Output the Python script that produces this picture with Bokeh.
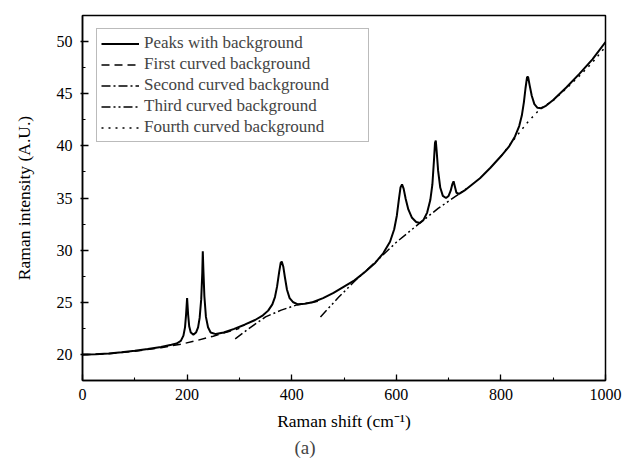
from bokeh.plotting import figure
from bokeh.models import Legend, LegendItem, Title, Range1d, SingleIntervalTicker
from bokeh.embed import file_html
from bokeh.resources import INLINE

# ---- data ----
peak_x = [0, 25, 50, 75, 100, 125, 150, 170, 180, 188, 193, 196, 198, 200, 202, 204, 207, 212,
          217, 221, 224, 227, 229, 230, 231, 233, 236, 240, 245, 255, 270, 290, 310, 330, 345,
          355, 363, 368, 372, 376, 379, 381, 384, 387, 391, 396, 403, 412, 425, 440, 460, 480,
          500, 520, 540, 560, 575, 588, 596, 601, 605, 608, 611, 614, 618, 623, 630, 638, 645,
          652, 659, 665, 669, 672, 674, 675.5, 677, 680, 684, 689, 695, 700, 704, 707, 709.5,
          712, 715, 720, 730, 745, 760, 780, 800, 815, 827, 835, 840, 844, 847, 850, 852, 855,
          859, 864, 870, 877, 885, 900, 925, 950, 975, 1000]
peak_y = [20.0, 20.02, 20.08, 20.2, 20.35, 20.52, 20.72, 20.92, 21.05, 21.3, 21.8, 22.6, 23.8,
          25.4, 23.8, 22.7, 22.1, 21.9, 22.1, 22.6, 23.5, 25.3, 27.8, 29.9, 28.3, 25.6, 23.6,
          22.6, 22.1, 21.95, 22.1, 22.45, 22.85, 23.3, 23.75, 24.2, 24.8, 25.5, 26.5, 27.9,
          28.8, 28.9, 28.4, 27.4, 26.2, 25.4, 25.0, 24.8, 24.85, 25.0, 25.4, 25.9, 26.5, 27.1,
          27.9, 28.8, 29.7, 30.8, 32.0, 33.3, 34.9, 36.0, 36.3, 35.9, 34.9, 33.9, 33.1, 32.7,
          32.6, 32.9, 33.6, 34.8, 36.3, 38.6, 40.3, 40.5, 39.6, 37.6, 36.0, 35.2, 35.0, 35.2,
          35.7, 36.3, 36.6, 36.1, 35.5, 35.4, 35.7, 36.3, 36.9, 37.9, 39.0, 39.9, 40.9, 41.9,
          42.9, 44.2, 45.5, 46.6, 46.6, 45.8, 44.8, 44.0, 43.65, 43.6, 43.8, 44.4, 45.6, 46.9,
          48.3, 49.95]

bg1_x = [0, 50, 100, 150, 190, 220, 250, 280, 300]
bg1_y = [19.98, 20.06, 20.3, 20.65, 21.0, 21.35, 21.75, 22.2, 22.5]

bg2_x = [292, 320, 350, 380, 410, 440, 450]
bg2_y = [21.5, 22.55, 23.6, 24.25, 24.75, 25.0, 25.1]

bg3_x = [455, 490, 525, 560, 600, 640, 680, 720, 740]
bg3_y = [23.6, 25.5, 27.25, 28.85, 30.75, 32.4, 34.0, 35.4, 36.1]

bg4_x = [800, 820, 850, 876, 900, 925, 950, 975, 1000]
bg4_y = [39.0, 40.3, 42.2, 43.6, 44.35, 45.5, 46.7, 48.0, 49.5]

labels = ["Peaks with background", "First curved background", "Second curved background",
          "Third curved background", "Fourth curved background"]

FONT = "Liberation Serif"

p = figure(width=622, height=459, output_backend="svg", toolbar_location=None,
           x_range=Range1d(0, 1000), y_range=Range1d(17.5, 52.5),
           min_border_left=82, min_border_right=17, min_border_top=15, min_border_bottom=76)
p.grid.visible = False
p.background_fill_color = "white"
p.border_fill_color = "white"
p.outline_line_color = "black"
p.outline_line_width = 1.5

r0 = p.line(peak_x, peak_y, line_color="black", line_width=2)
r1 = p.line(bg1_x, bg1_y, line_color="black", line_width=1.5, line_dash="8 5")
r2 = p.line(bg2_x, bg2_y, line_color="black", line_width=1.5, line_dash="9 3 2 3")
r3 = p.line(bg3_x, bg3_y, line_color="black", line_width=1.5, line_dash="9 3 2 3 2 3")
r4 = p.line(bg4_x, bg4_y, line_color="black", line_width=1.5, line_dash="2 5")

for ax in (p.xaxis[0], p.yaxis[0]):
    ax.axis_line_width = 1.5
    ax.axis_line_color = "black"
    ax.major_tick_line_color = "black"
    ax.minor_tick_line_color = "black"
    ax.major_tick_line_width = 1.3
    ax.minor_tick_line_width = 1.1
    ax.major_tick_in = 6
    ax.major_tick_out = 0
    ax.minor_tick_in = 3
    ax.minor_tick_out = 0
    ax.major_label_text_font = FONT
    ax.major_label_text_font_size = "16px"
    ax.major_label_text_color = "black"
    ax.axis_label_text_font = FONT
    ax.axis_label_text_font_size = "17.5px"
    ax.axis_label_text_font_style = "normal"
    ax.axis_label_text_color = "black"

p.xaxis.ticker = SingleIntervalTicker(interval=200, num_minor_ticks=2)
p.yaxis.ticker = SingleIntervalTicker(interval=5, num_minor_ticks=2)
p.yaxis.major_tick_out = 2
p.xaxis.axis_label = "Raman shift (cm\u207b\u00b9)"
p.yaxis.axis_label = "Raman intensity (A.U.)"
p.xaxis.major_label_standoff = 8
p.xaxis.axis_label_standoff = 8
p.yaxis.major_label_standoff = 8
p.yaxis.axis_label_standoff = 20

legend = Legend(items=[LegendItem(label=labels[0], renderers=[r0]),
                       LegendItem(label=labels[1], renderers=[r1]),
                       LegendItem(label=labels[2], renderers=[r2]),
                       LegendItem(label=labels[3], renderers=[r3]),
                       LegendItem(label=labels[4], renderers=[r4])],
                location=(14, 238), margin=0)
legend.label_text_font = FONT
legend.label_text_font_size = "17px"
legend.glyph_width = 38
legend.glyph_height = 19
legend.label_height = 19
legend.label_width = 220
legend.label_standoff = 5
legend.spacing = 1
legend.padding = 4
legend.border_line_color = "#777777"
legend.border_line_width = 1
legend.background_fill_alpha = 1.0
p.add_layout(legend, "center")

cap = Title(text="(a)", align="left", offset=212, text_font=FONT, text_font_size="19px",
            text_font_style="normal", standoff=3)
p.add_layout(cap, "below")

open("out.html", "w").write(file_html(p, INLINE))
